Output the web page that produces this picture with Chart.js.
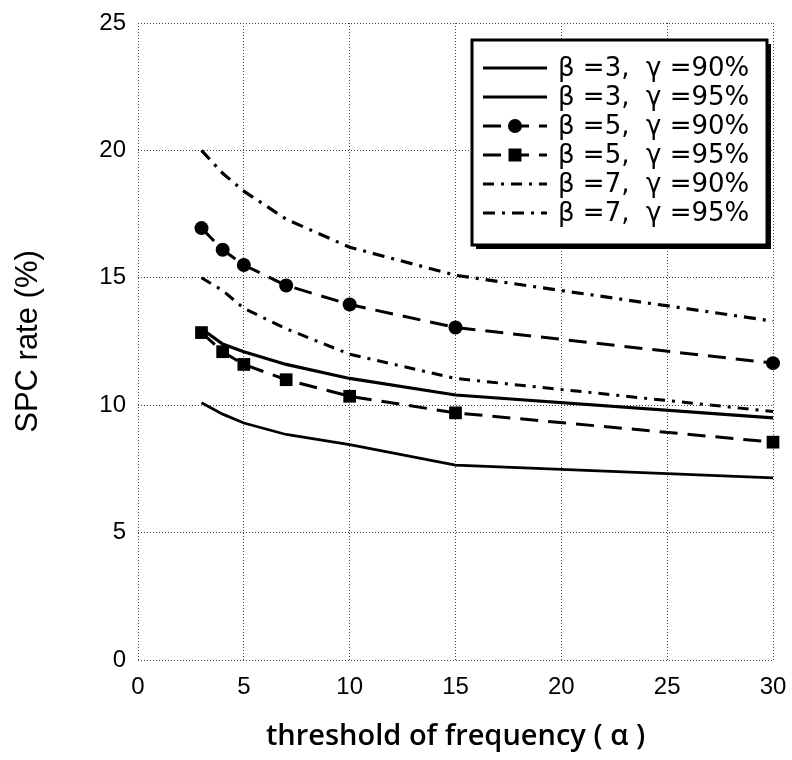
<!DOCTYPE html>
<html>
<head>
<meta charset="utf-8">
<script src="https://cdn.jsdelivr.net/npm/chart.js@4.4.0/dist/chart.umd.min.js"></script>
<style>
  html, body { margin: 0; padding: 0; background: #fff; }
  #wrap { width: 792px; height: 760px; }
</style>
</head>
<body>
<div id="wrap"><canvas id="spcChart" width="792" height="760"></canvas></div>
<script>
// threshold of frequency (alpha) values
const alpha = [3, 4, 5, 7, 10, 15, 30];

// SPC rate (%) per beta / gamma combination
const b3g90 = [13.0, 12.4, 12.1, 11.6, 11.05, 10.4, 9.5];
const b3g95 = [10.1, 9.65, 9.3, 8.85, 8.45, 7.65, 7.15];
const b5g90 = [16.95, 16.1, 15.5, 14.7, 13.95, 13.05, 11.65];
const b5g95 = [12.85, 12.1, 11.6, 11.0, 10.35, 9.7, 8.55];
const b7g90 = [15.0, 14.5, 13.8, 13.0, 12.0, 11.05, 9.75];
const b7g95 = [20.0, 19.1, 18.4, 17.3, 16.2, 15.1, 13.3];

const seriesLabels = [
    'β =3,  γ =90%',
    'β =3,  γ =95%',
    'β =5,  γ =90%',
    'β =5,  γ =95%',
    'β =7,  γ =90%',
    'β =7,  γ =95%'
];

const xTicks = [0, 5, 10, 15, 20, 25, 30];
const yTicks = [0, 5, 10, 15, 20, 25];

const toPoints = ys => alpha.map((a, i) => ({ x: a, y: ys[i] }));

const styles = [
    { width: 3.2, dash: [], point: false },
    { width: 2.8, dash: [], point: false },
    { width: 3, dash: [18, 10], point: 'circle' },
    { width: 3, dash: [18, 10], point: 'rect' },
    { width: 3, dash: [11, 7, 3, 7], point: false },
    { width: 3.2, dash: [12, 7, 3, 7], point: false }
];

const datasets = [b3g90, b3g95, b5g90, b5g95, b7g90, b7g95].map((ys, i) => ({
    label: seriesLabels[i],
    data: toPoints(ys),
    borderColor: '#000',
    backgroundColor: '#000',
    borderWidth: styles[i].width,
    borderDash: styles[i].dash,
    pointStyle: styles[i].point || 'circle',
    pointRadius: styles[i].point ? (styles[i].point === 'rect' ? 9 : 7) : 0,
    pointBorderWidth: 0,
    tension: 0,
    clip: false
}));

// Framed legend with drop shadow inside the plot area
const boxLegend = {
    id: 'boxLegend',
    afterDraw(chart) {
        const ctx = chart.ctx;
        const area = chart.chartArea;
        const w = 295, h = 205;
        const x = area.right - w - 6;
        const y = area.top + 17;
        ctx.save();
        ctx.fillStyle = '#000';
        ctx.fillRect(x + 4, y + 4, w, h);
        ctx.fillStyle = '#fff';
        ctx.fillRect(x, y, w, h);
        ctx.lineWidth = 3;
        ctx.strokeStyle = '#000';
        ctx.strokeRect(x, y, w, h);

        ctx.font = '26px "DejaVu Sans"';
        ctx.textBaseline = 'middle';
        ctx.fillStyle = '#000';
        chart.data.datasets.forEach((ds, i) => {
            const cy = y + 28 + i * 29;
            ctx.lineWidth = ds.borderWidth;
            ctx.setLineDash(ds.borderDash);
            ctx.beginPath();
            ctx.moveTo(x + 11, cy);
            ctx.lineTo(x + 75, cy);
            ctx.stroke();
            ctx.setLineDash([]);
            if (ds.pointRadius > 0) {
                ctx.beginPath();
                if (ds.pointStyle === 'rect') {
                    ctx.rect(x + 43 - 6.5, cy - 6.5, 13, 13);
                } else {
                    ctx.arc(x + 43, cy, 7, 0, Math.PI * 2);
                }
                ctx.fill();
            }
            ctx.fillText(ds.label, x + 86, cy + 1);
        });
        ctx.restore();
    }
};

const tickFont = { family: '"Liberation Sans", Arial, sans-serif', size: 24 };
const gridStyle = { color: '#444', lineWidth: 1, drawTicks: false };
const borderStyle = { display: false, dash: [1, 2] };

new Chart(document.getElementById('spcChart'), {
    type: 'line',
    data: { datasets },
    options: {
        responsive: false,
        animation: false,
        layout: { padding: { top: 23, right: 19, left: 0, bottom: 0 } },
        plugins: {
            legend: { display: false },
            tooltip: { enabled: false }
        },
        scales: {
            x: {
                type: 'linear',
                min: xTicks[0],
                max: xTicks[xTicks.length - 1],
                afterBuildTicks: s => { s.ticks = xTicks.map(v => ({ value: v })); },
                afterFit: s => { s.height = 100; s.paddingLeft = 0; s.paddingRight = 0; },
                ticks: { color: '#000', font: tickFont, padding: 13, maxRotation: 0 },
                grid: gridStyle,
                border: borderStyle,
                title: {
                    display: true,
                    text: 'threshold of frequency ( α )',
                    color: '#000',
                    font: { family: '"Open Sans", sans-serif', size: 29, weight: '600' },
                    padding: { top: 0, bottom: 6 }
                }
            },
            y: {
                min: yTicks[0],
                max: yTicks[yTicks.length - 1],
                afterBuildTicks: s => { s.ticks = yTicks.map(v => ({ value: v })); },
                afterFit: s => { s.width = 138; s.paddingTop = 0; s.paddingBottom = 0; },
                ticks: { color: '#000', font: tickFont, padding: 12 },
                grid: gridStyle,
                border: borderStyle,
                title: {
                    display: true,
                    text: 'SPC rate (%)',
                    color: '#000',
                    font: { family: '"Liberation Sans", Arial, sans-serif', size: 31 },
                    padding: { top: 10, bottom: 0 }
                }
            }
        }
    },
    plugins: [boxLegend]
});
</script>
</body>
</html>
